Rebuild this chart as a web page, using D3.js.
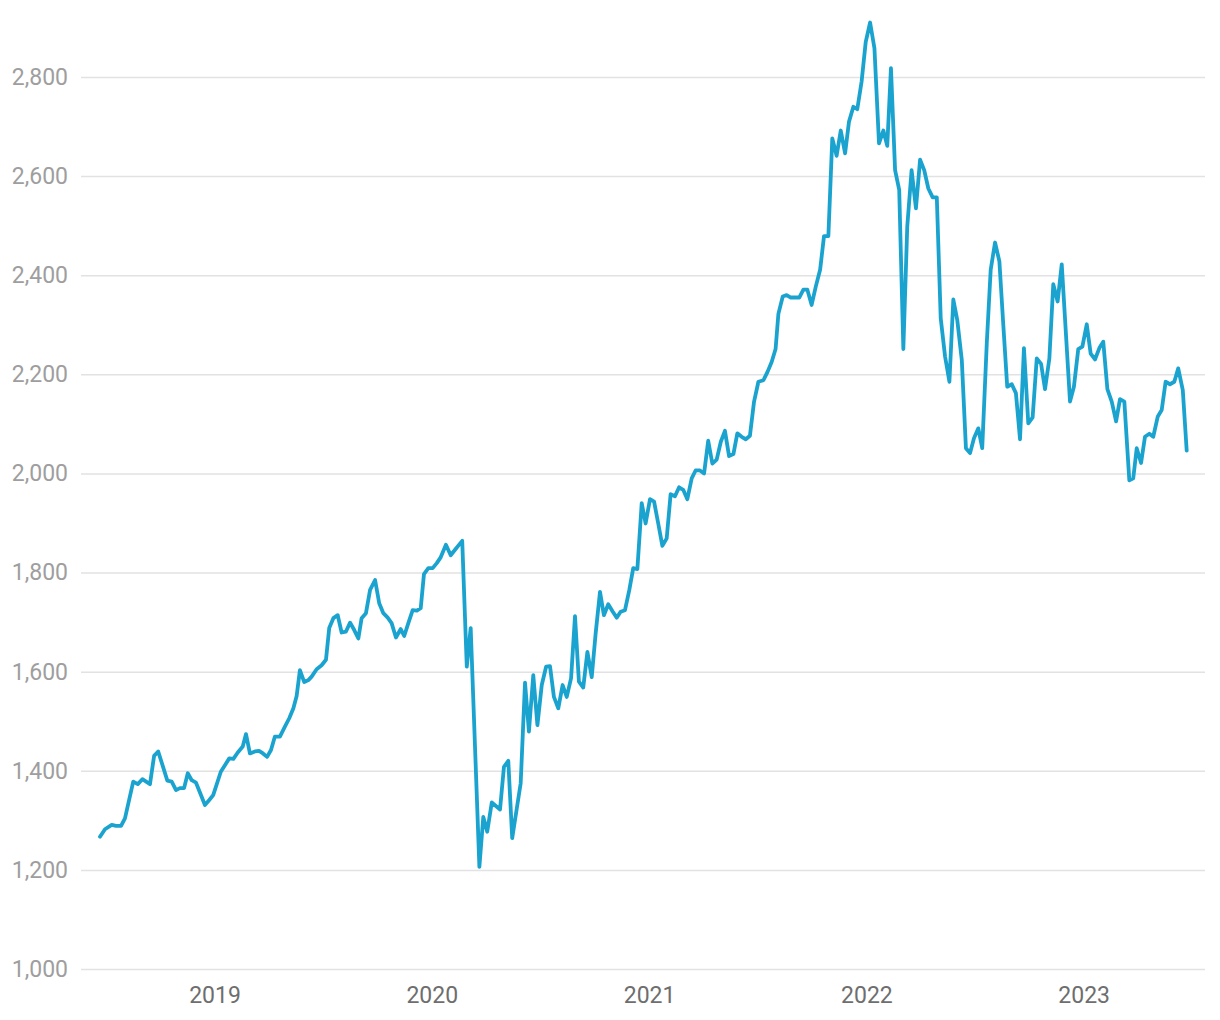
<!DOCTYPE html>
<html>
<head>
<meta charset="utf-8">
<script src="https://cdn.jsdelivr.net/npm/d3@7"></script>
<style>
  body { margin: 0; background: #fff; }
  svg { display: block; }
  svg text { font-family: Roboto, "Noto Sans", sans-serif; }
</style>
</head>
<body>
<div id="chart"></div>
<script>
// weekly index level, dates as decimal years
const dates = [
  2018.473, 2018.496, 2018.527, 2018.547, 2018.570, 2018.588, 2018.626, 2018.647, 2018.668, 2018.703,
  2018.722, 2018.741, 2018.783, 2018.803, 2018.823, 2018.841, 2018.860, 2018.877, 2018.895, 2018.915,
  2018.956, 2018.976, 2018.994, 2019.029, 2019.068, 2019.087, 2019.107, 2019.130, 2019.145, 2019.163,
  2019.186, 2019.205, 2019.223, 2019.242, 2019.260, 2019.278, 2019.301, 2019.324, 2019.344, 2019.363,
  2019.378, 2019.393, 2019.413, 2019.432, 2019.447, 2019.470, 2019.493, 2019.513, 2019.528, 2019.547,
  2019.567, 2019.585, 2019.605, 2019.624, 2019.643, 2019.662, 2019.677, 2019.697, 2019.716, 2019.739,
  2019.758, 2019.777, 2019.797, 2019.815, 2019.835, 2019.857, 2019.873, 2019.892, 2019.912, 2019.931,
  2019.949, 2019.964, 2019.984, 2020.004, 2020.023, 2020.040, 2020.065, 2020.087, 2020.107, 2020.125,
  2020.140, 2020.161, 2020.179, 2020.219, 2020.237, 2020.255, 2020.276, 2020.314, 2020.332, 2020.352,
  2020.370, 2020.409, 2020.429, 2020.447, 2020.467, 2020.486, 2020.506, 2020.526, 2020.544, 2020.562,
  2020.582, 2020.602, 2020.621, 2020.641, 2020.659, 2020.677, 2020.697, 2020.716, 2020.736, 2020.754,
  2020.774, 2020.792, 2020.812, 2020.833, 2020.851, 2020.869, 2020.889, 2020.909, 2020.927, 2020.946,
  2020.966, 2020.984, 2021.004, 2021.023, 2021.042, 2021.061, 2021.081, 2021.099, 2021.119, 2021.138,
  2021.157, 2021.176, 2021.196, 2021.214, 2021.234, 2021.253, 2021.272, 2021.291, 2021.311, 2021.330,
  2021.349, 2021.368, 2021.388, 2021.406, 2021.426, 2021.445, 2021.464, 2021.483, 2021.503, 2021.526,
  2021.545, 2021.564, 2021.582, 2021.595, 2021.615, 2021.633, 2021.652, 2021.671, 2021.691, 2021.710,
  2021.728, 2021.748, 2021.767, 2021.787, 2021.805, 2021.825, 2021.843, 2021.863, 2021.882, 2021.902,
  2021.920, 2021.940, 2021.958, 2021.978, 2021.997, 2022.017, 2022.037, 2022.058, 2022.078, 2022.096,
  2022.113, 2022.132, 2022.151, 2022.170, 2022.188, 2022.208, 2022.228, 2022.247, 2022.266, 2022.285,
  2022.305, 2022.324, 2022.342, 2022.362, 2022.382, 2022.400, 2022.418, 2022.439, 2022.458, 2022.477,
  2022.495, 2022.515, 2022.533, 2022.554, 2022.572, 2022.592, 2022.612, 2022.630, 2022.648, 2022.669,
  2022.688, 2022.707, 2022.725, 2022.745, 2022.765, 2022.784, 2022.804, 2022.822, 2022.842, 2022.860,
  2022.880, 2022.899, 2022.937, 2022.955, 2022.975, 2022.994, 2023.014, 2023.032, 2023.052, 2023.072,
  2023.090, 2023.109, 2023.129, 2023.149, 2023.167, 2023.187, 2023.210, 2023.228, 2023.244, 2023.264,
  2023.282, 2023.302, 2023.320, 2023.341, 2023.359, 2023.377, 2023.397, 2023.417, 2023.435, 2023.456,
  2023.474
];

const values = [
  1267, 1282, 1291, 1289, 1289, 1304, 1378, 1373, 1383, 1373,
  1430, 1439, 1380, 1378, 1361, 1365, 1365, 1395, 1381, 1376,
  1331, 1341, 1351, 1398, 1425, 1424, 1437, 1449, 1474, 1435,
  1439, 1440, 1435, 1428, 1442, 1469, 1469, 1489, 1506, 1526,
  1551, 1603, 1579, 1583, 1590, 1605, 1613, 1624, 1688, 1708,
  1714, 1679, 1681, 1699, 1684, 1667, 1708, 1718, 1765, 1785,
  1738, 1718, 1709, 1698, 1669, 1686, 1672, 1698, 1724, 1723,
  1728, 1797, 1809, 1809, 1819, 1830, 1856, 1835, 1846, 1856,
  1864, 1610, 1688, 1206, 1307, 1277, 1336, 1322, 1408, 1420,
  1264, 1375, 1578, 1479, 1593, 1492, 1573, 1610, 1611, 1549,
  1526, 1573, 1549, 1587, 1712, 1580, 1568, 1640, 1589, 1677,
  1761, 1714, 1736, 1721, 1709, 1721, 1724, 1765, 1809, 1807,
  1940, 1899, 1948, 1943, 1899, 1854, 1869, 1958, 1954, 1972,
  1967, 1948, 1990, 2006, 2006, 2000, 2066, 2020, 2028, 2064,
  2086, 2035, 2039, 2081, 2074, 2069, 2076, 2145, 2185, 2188,
  2205, 2225, 2251, 2322, 2357, 2360, 2355, 2355, 2355, 2371,
  2371, 2340, 2377, 2411, 2479, 2479, 2676, 2641, 2692, 2646,
  2710, 2740, 2735, 2791, 2871, 2910, 2858, 2666, 2692, 2661,
  2818, 2612, 2572, 2251, 2498, 2612, 2535, 2633, 2612, 2575,
  2557, 2557, 2313, 2236, 2185, 2351, 2310, 2229, 2051, 2041,
  2071, 2091, 2051, 2263, 2411, 2466, 2428, 2300, 2175, 2180,
  2162, 2069, 2253, 2101, 2113, 2232, 2221, 2170, 2232, 2382,
  2347, 2422, 2145, 2175, 2251, 2256, 2301, 2242, 2230, 2253,
  2266, 2170, 2145, 2105, 2150, 2145, 1986, 1990, 2051, 2021,
  2074, 2080, 2074, 2115, 2128, 2185, 2180, 2185, 2212, 2168,
  2046
];

const yearTicks = [2019, 2020, 2021, 2022, 2023];
const yTicks = [1000, 1200, 1400, 1600, 1800, 2000, 2200, 2400, 2600, 2800];

const W = 1220, H = 1020;
const plot = { left: 81, right: 1205, top: 77, bottom: 969 };

const data = dates.map((d, i) => ({ t: d, v: values[i] }));

const x = d3.scaleLinear()
  .domain([2019, 2023])
  .range([214.5, 1083.7]);

const y = d3.scaleLinear()
  .domain([1000, 2800])
  .range([plot.bottom, plot.top]);

const svg = d3.select("#chart")
  .append("svg")
  .attr("width", W)
  .attr("height", H);

// y axis + gridlines
const yAxis = svg.append("g")
  .attr("transform", `translate(${plot.left},0)`)
  .call(d3.axisLeft(y)
    .tickValues(yTicks)
    .tickSize(-(plot.right - plot.left))
    .tickPadding(13)
    .tickFormat(d3.format(",")))
  .attr("font-family", null)
  .attr("font-size", null);

yAxis.select(".domain").remove();
yAxis.selectAll(".tick line")
  .attr("stroke", "#e2e2e2")
  .attr("stroke-width", 1.5);
yAxis.selectAll(".tick text")
  .attr("fill", "#9e9e9e")
  .style("font-size", "23px");

// x axis labels
const xAxis = svg.append("g")
  .attr("transform", `translate(0,${plot.bottom})`)
  .call(d3.axisBottom(x)
    .tickValues(yearTicks)
    .tickSize(0)
    .tickPadding(18)
    .tickFormat(d3.format("d")))
  .attr("font-family", null)
  .attr("font-size", null);

xAxis.select(".domain").remove();
xAxis.selectAll(".tick text")
  .attr("fill", "#6e6e6e")
  .style("font-size", "23px");

// the line
const line = d3.line()
  .x(d => x(d.t))
  .y(d => y(d.v));

svg.append("path")
  .datum(data)
  .attr("d", line)
  .attr("fill", "none")
  .attr("stroke", "#1ba3cf")
  .attr("stroke-width", 3.8)
  .attr("stroke-linejoin", "round")
  .attr("stroke-linecap", "round");
</script>
</body>
</html>
